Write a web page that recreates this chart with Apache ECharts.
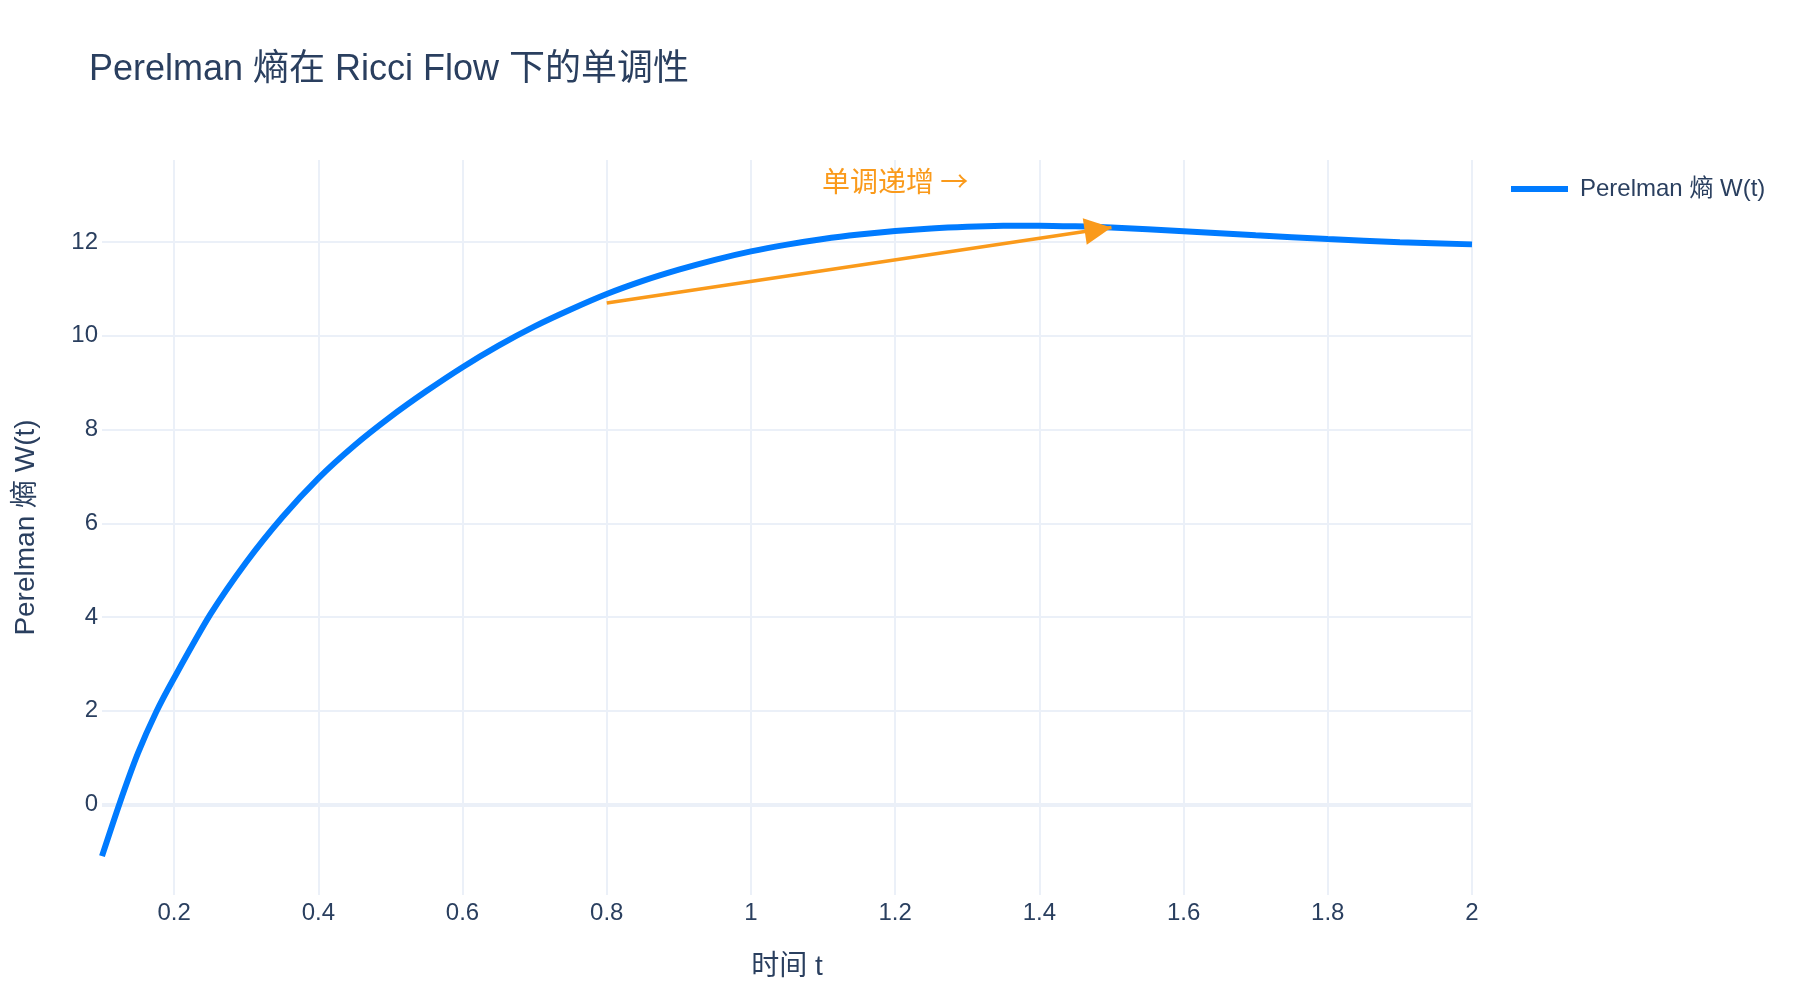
<!DOCTYPE html>
<html>
<head>
<meta charset="utf-8">
<script src="https://cdn.jsdelivr.net/npm/echarts@6/dist/echarts.min.js"></script>
<style>
  html, body { margin: 0; padding: 0; background: #ffffff; }
  #chart { width: 1800px; height: 1000px; }
</style>
</head>
<body>
<div id="chart"></div>
<script>
// ---- data ----
const chartTitle = 'Perelman 熵在 Ricci Flow 下的单调性';
const seriesName = 'Perelman 熵 W(t)';
const xAxisTitle = '时间 t';
const yAxisTitle = 'Perelman 熵 W(t)';
const tValues = [0.1, 0.125, 0.15, 0.175, 0.2, 0.25, 0.3, 0.35, 0.4, 0.45, 0.5, 0.55, 0.6, 0.65, 0.7, 0.75, 0.8, 0.85, 0.9, 0.95, 1.0, 1.05, 1.1, 1.15, 1.2, 1.25, 1.3, 1.35, 1.4, 1.45, 1.5, 1.6, 1.7, 1.8, 1.9, 2.0];
const wValues = [-1.1, 0.05, 1.1, 1.97, 2.7, 4.05, 5.17, 6.13, 6.96, 7.66, 8.27, 8.82, 9.33, 9.79, 10.2, 10.56, 10.89, 11.17, 11.41, 11.62, 11.8, 11.945, 12.065, 12.16, 12.235, 12.29, 12.325, 12.345, 12.35, 12.335, 12.31, 12.23, 12.145, 12.065, 11.995, 11.95];
const xTicks = [0.2, 0.4, 0.6, 0.8, 1.0, 1.2, 1.4, 1.6, 1.8, 2.0];
const yTicks = [0, 2, 4, 6, 8, 10, 12];
const xRange = [0.1, 2.0];
const yRange = [-1.93, 13.75];
const annotationText = '单调递增 →';
const annotationPos = [1.2, 13.3];
const arrowTail = [0.8, 10.7];
const arrowHead = [1.5, 12.31];

// ---- chart ----
const FONT = "'Liberation Sans', Arial, 'Noto Sans CJK SC', sans-serif";
const CJKFONT = "'Noto Sans CJK SC', sans-serif";
const TXT = '#2a3f5f';
const GRID = '#EBF0F8';
const BLUE = '#007bff';
const ORANGE = '#fa9a1b';

const chart = echarts.init(document.getElementById('chart'), null, { renderer: 'canvas' });
const fmt = v => String(parseFloat(Number(v).toFixed(2)));

chart.setOption({
  backgroundColor: '#ffffff',
  animation: false,
  textStyle: { fontFamily: FONT, color: TXT },
  title: {
    text: chartTitle,
    left: 84,
    top: 47,
    textStyle: { fontFamily: FONT, color: TXT, fontSize: 36, fontWeight: 'normal' }
  },
  legend: {
    data: [seriesName],
    left: 1511,
    top: 177,
    padding: 0,
    icon: 'rect',
    itemWidth: 57,
    itemHeight: 6,
    itemStyle: { color: BLUE },
    textStyle: { fontFamily: FONT, color: TXT, fontSize: 24, padding: [0, 0, 0, 7] }
  },
  grid: { left: 102, right: 328, top: 160, bottom: 105, containLabel: false },
  xAxis: {
    type: 'value',
    min: xRange[0],
    max: xRange[1],
    name: xAxisTitle,
    nameLocation: 'middle',
    nameGap: 58,
    nameTextStyle: { fontFamily: FONT, color: TXT, fontSize: 28 },
    axisLine: { show: false },
    axisTick: { show: false, customValues: xTicks },
    axisLabel: { customValues: xTicks, formatter: fmt, fontSize: 24, color: TXT, fontFamily: FONT, margin: 6 },
    splitLine: { show: true, lineStyle: { color: GRID, width: 2 } }
  },
  yAxis: {
    type: 'value',
    min: yRange[0],
    max: yRange[1],
    name: yAxisTitle,
    nameLocation: 'middle',
    nameGap: 62,
    nameTextStyle: { fontFamily: FONT, color: TXT, fontSize: 28 },
    axisLine: { show: false },
    axisTick: { show: false, customValues: yTicks },
    axisLabel: { customValues: yTicks, formatter: fmt, fontSize: 24, color: TXT, fontFamily: FONT, margin: 4 },
    splitLine: { show: true, lineStyle: { color: GRID, width: 2 } }
  },
  series: [
    {
      type: 'line',
      data: [],
      silent: true,
      z: 1,
      markLine: {
        silent: true,
        z: 1,
        symbol: 'none',
        label: { show: false },
        lineStyle: { color: GRID, width: 4, type: 'solid' },
        data: [{ yAxis: 0 }]
      }
    },
    {
      name: seriesName,
      type: 'line',
      data: tValues.map((t, i) => [t, wValues[i]]),
      showSymbol: false,
      symbol: 'none',
      smooth: 0.25,
      z: 3,
      lineStyle: { color: BLUE, width: 6 },
      itemStyle: { color: BLUE },
      markLine: {
        silent: true,
        symbol: ['none', 'triangle'],
        symbolSize: [27, 27],
        symbolOffset: [[0, 0], [0, 13.5]],
        label: { show: false },
        lineStyle: { color: ORANGE, width: 3.5, type: 'solid' },
        itemStyle: { color: ORANGE },
        data: [[{ coord: arrowTail }, { coord: arrowHead }]]
      },
      markPoint: {
        silent: true,
        symbol: 'rect',
        symbolSize: 1,
        itemStyle: { color: 'rgba(0,0,0,0)' },
        label: {
          show: true,
          position: 'inside',
          formatter: annotationText,
          color: ORANGE,
          fontSize: 28,
          fontFamily: CJKFONT
        },
        data: [{ coord: annotationPos }]
      }
    }
  ]
});
</script>
</body>
</html>
